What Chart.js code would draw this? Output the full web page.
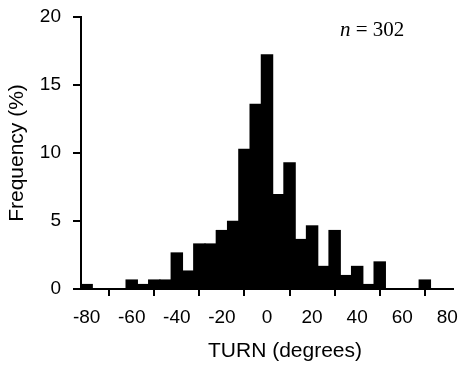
<!DOCTYPE html>
<html><head><meta charset="utf-8">
<script src="https://cdn.jsdelivr.net/npm/chart.js@4.4.1/dist/chart.umd.min.js"></script>
<style>html,body{margin:0;padding:0;background:#fff}#wrap{width:461px;height:372px}</style>
</head><body><div id="wrap"><canvas id="c" width="461" height="372"></canvas></div>
<script>
const binCenters = [-80,-75,-70,-65,-60,-55,-50,-45,-40,-35,-30,-25,-20,-15,-10,-5,0,5,10,15,20,25,30,35,40,45,50,55,60,65,70,75,80];
const frequencyPct = [0.33,0,0,0,0.66,0.33,0.66,0.66,2.65,1.32,3.31,3.31,4.30,4.97,10.26,13.58,17.22,6.95,9.27,3.64,4.64,1.66,4.30,0.99,1.66,0.33,1.99,0,0,0,0.66,0,0];
const xTickValues = [-80,-60,-40,-20,0,20,40,60,80];
const yTickValues = [0,5,10,15,20];
const xTitle = 'TURN (degrees)';
const yTitle = 'Frequency (%)';
const sampleNote = ['n', ' = 302'];

const sans = "'Liberation Sans', Arial, sans-serif";
const serif = "'Liberation Serif', 'Times New Roman', serif";

const textPlugin = {
  id: 'texts',
  afterDraw(chart) {
    const ctx = chart.ctx;
    ctx.save();
    ctx.fillStyle = '#000';
    ctx.font = "21px " + sans;
    ctx.textAlign = 'center';
    ctx.textBaseline = 'middle';
    ctx.fillText(xTitle, 285, 351);
    ctx.textAlign = 'left';
    ctx.textBaseline = 'alphabetic';
    ctx.font = "italic 21px " + serif;
    const x0 = 340;
    ctx.fillText(sampleNote[0], x0, 36);
    const w = ctx.measureText(sampleNote[0]).width;
    ctx.font = "21px " + serif;
    ctx.fillText(sampleNote[1], x0 + w, 36);
    ctx.restore();
  }
};

new Chart(document.getElementById('c'), {
  type: 'bar',
  data: {
    datasets: [{
      data: binCenters.map((x, i) => ({ x: x, y: frequencyPct[i] })),
      backgroundColor: '#000',
      borderWidth: 0,
      inflateAmount: 0.6,
      barPercentage: 1,
      categoryPercentage: 1
    }]
  },
  options: {
    responsive: false,
    devicePixelRatio: 1,
    animation: false,
    layout: { padding: { left: 0, right: 8, top: 17, bottom: 0 } },
    plugins: { legend: { display: false }, tooltip: { enabled: false } },
    scales: {
      x: {
        type: 'linear',
        min: -82.5, max: 82.5,
        offset: false,
        afterBuildTicks(s) { s.ticks = xTickValues.map(v => ({ value: v })); },
        afterFit(s) { s.height = 83; s.paddingLeft = 0; s.paddingRight = 0; },
        grid: { drawOnChartArea: false, drawTicks: true, tickLength: 7, lineWidth: 2, color: '#000' },
        border: { display: true, color: '#000', width: 2 },
        ticks: {
          autoSkip: false, maxRotation: 0, minRotation: 0, padding: 10,
          color: '#000', font: { family: sans, size: 19 }
        },
        title: { display: false }
      },
      y: {
        min: 0, max: 20,
        afterBuildTicks(s) { s.ticks = yTickValues.map(v => ({ value: v })); },
        afterFit(s) { s.width = 81; s.paddingTop = 0; s.paddingBottom = 0; },
        grid: { drawOnChartArea: false, drawTicks: true, tickLength: 8, color: '#000', lineWidth: 2 },
        border: { display: true, color: '#000', width: 2 },
        ticks: { padding: 12, color: '#000', font: { family: sans, size: 19 } },
        title: { display: true, text: yTitle, color: '#000', font: { family: sans, size: 21 }, padding: { top: 5, bottom: 0 } }
      }
    }
  },
  plugins: [textPlugin]
});
</script>
</body></html>
